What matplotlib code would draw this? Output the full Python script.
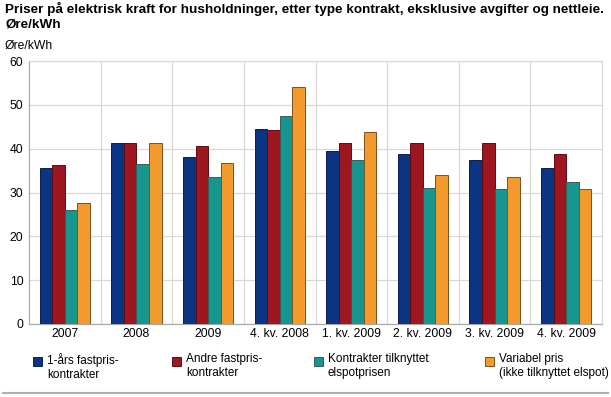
import matplotlib
matplotlib.use("Agg")
import matplotlib.pyplot as plt
import numpy as np
from matplotlib.patches import Rectangle

categories = ["2007", "2008", "2009", "4. kv. 2008", "1. kv. 2009", "2. kv. 2009", "3. kv. 2009", "4. kv. 2009"]
series_names = ["1-års fastpris-\nkontrakter", "Andre fastpris-\nkontrakter", "Kontrakter tilknyttet\nelspotprisen", "Variabel pris\n(ikke tilknyttet elspot)"]
ettars = [35.7, 41.2, 38.0, 44.4, 39.4, 38.7, 37.5, 35.7]
andre = [36.2, 41.3, 40.6, 44.3, 41.2, 41.2, 41.2, 38.7]
elspot = [26.1, 36.6, 33.5, 47.4, 37.5, 31.1, 30.9, 32.5]
variabel = [27.6, 41.2, 36.7, 54.0, 43.9, 34.1, 33.6, 30.9]
yticks = [0, 10, 20, 30, 40, 50, 60]

colors = ["#0b3583", "#9d1620", "#17968f", "#f29b2c"]
edges = ["#0a1f4a", "#5a0d12", "#3a5c58", "#7a5420"]

plt.rcParams["font.family"] = ["Liberation Sans", "DejaVu Sans"]
fig = plt.figure(figsize=(6.11, 3.97), dpi=100)
ax = fig.add_axes([29/611, 1-324/397, (602-29)/611, (324-61)/397])

x = np.arange(len(categories))
w = 0.175
data = [ettars, andre, elspot, variabel]
for i, vals in enumerate(data):
    ax.bar(x + (i - 1.5) * w, vals, w, color=colors[i], edgecolor=edges[i], linewidth=0.7, zorder=3)

ax.set_xlim(-0.5, len(categories) - 0.5)
ax.set_ylim(0, 60)
ax.set_yticks(yticks)
ax.set_xticks(x)
ax.set_xticklabels(categories, fontsize=8.7)
ax.tick_params(axis="y", labelsize=8.7, length=0, pad=4)
ax.tick_params(axis="x", length=0, pad=3)
for v in yticks:
    ax.axhline(v, color="#d9d9d9", linewidth=0.9, zorder=1)
for b in np.arange(0.5, len(categories) - 0.5, 1):
    ax.axvline(b, color="#d9d9d9", linewidth=0.9, zorder=1)
for s in ["top", "right"]:
    ax.spines[s].set_color("#d9d9d9")
    ax.spines[s].set_linewidth(0.9)
ax.spines["left"].set_color("#aaaaaa")
ax.spines["bottom"].set_color("#aaaaaa")
ax.spines["left"].set_linewidth(0.9)
ax.spines["bottom"].set_linewidth(0.9)

fig.text(5/611, 1-2/397, "Priser på elektrisk kraft for husholdninger, etter type kontrakt, eksklusive avgifter og nettleie.\nØre/kWh",
         fontsize=9.7, fontweight="bold", va="top", ha="left", linespacing=1.3)
fig.text(5/611, 1-46/397, "Øre/kWh", fontsize=8.7, va="center", ha="left")

leg_x = [33, 172, 314, 485]
for i, name in enumerate(series_names):
    fig.patches.append(Rectangle((leg_x[i]/611, 1-366/397), 9/611, 9/397, transform=fig.transFigure,
                                 facecolor=colors[i], edgecolor=edges[i], linewidth=0.7))
    fig.text((leg_x[i]+14)/611, 1-353/397, name, fontsize=8.5, va="top", ha="left", linespacing=1.2)

fig.add_artist(plt.Line2D([3/611, 608/611], [1-393/397, 1-393/397], transform=fig.transFigure, color="#b0b0b0", linewidth=1.5))

fig.savefig("out.png", dpi=100)
